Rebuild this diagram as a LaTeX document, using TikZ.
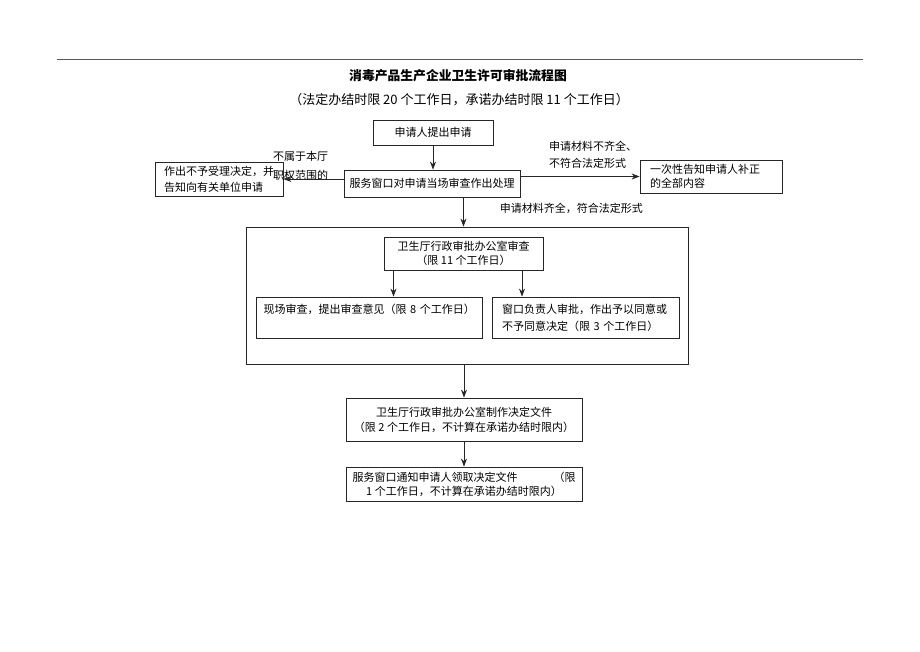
\documentclass[tikz,border=0pt]{standalone}
\usepackage{fontspec}
\setmainfont{Noto Sans CJK SC}
\usetikzlibrary{arrows.meta,positioning}

\begin{document}
\begin{tikzpicture}[x=1pt, y=-1pt,
  box/.style={rectangle, draw=black!85, line width=0.8pt, inner sep=0pt,
    font=\fontsize{11}{15}\selectfont},
  lbox/.style={box, align=left},
  lbl/.style={inner sep=0pt, font=\fontsize{11}{15}\selectfont},
  flow/.style={->, line width=0.8pt, draw=black!85},
  >={Stealth[length=8pt,width=6pt]}
]
  \useasboundingbox (0,0) rectangle (920,651);
  % heading
  \draw[line width=0.7pt, black!65] (57,59) -- (863,59);
  \node[lbl, font=\fontsize{12.8}{15}\selectfont\bfseries] (title) at (458,76)
    {消毒产品生产企业卫生许可审批流程图};
  \node[lbl, font=\fontsize{13}{15}\selectfont] (subtitle) at (459,100)
    {（法定办结时限 20 个工作日，承诺办结时限 11 个工作日）};

  % application and first handling
  \node[box, minimum width=120, minimum height=25] (apply) at (433,132.5) {申请人提出申请};
  \node[box, minimum width=176, minimum height=27] (serve) at (432,183.5)
    {服务窗口对申请当场审查作出处理};
  \node[lbox, text width=110, inner xsep=9, minimum height=34,
    font=\fontsize{11}{16}\selectfont] (reject) at (219,179)
    {作出不予受理决定，并\\告知向有关单位申请};
  \node[lbox, text width=122, inner xsep=10, minimum height=33,
    font=\fontsize{11}{14}\selectfont] (notify) at (711,176.5)
    {一次性告知申请人补正\\的全部内容};

  % review block
  \node[box, minimum width=442, minimum height=137] (office) at (467,295.5) {};
  \node[box, align=center, minimum width=159, minimum height=33,
    font=\fontsize{11}{14}\selectfont] (check) at (463.5,253.5)
    {卫生厅行政审批办公室审查\\（限 11 个工作日）};
  \node[lbox, text width=212, inner xsep=7, minimum height=41,
    font=\fontsize{11}{17}\selectfont] (site) at (369.5,317.5)
    {现场审查，提出审查意见（限 8 个工作日）\\\mbox{}};
  \node[lbox, text width=167, inner xsep=10, minimum height=41,
    font=\fontsize{11}{17}\selectfont] (window) at (585.5,317.5)
    {窗口负责人审批，作出予以同意或\\不予同意决定（限 3 个工作日）};

  % decision and notice
  \node[box, align=center, minimum width=236, minimum height=43] (doc) at (464,419.5)
    {卫生厅行政审批办公室制作决定文件\\（限 2 个工作日，不计算在承诺办结时限内）};
  \node[box, align=center, minimum width=236, minimum height=34,
    font=\fontsize{11}{14}\selectfont] (notice) at (464,484)
    {服务窗口通知申请人领取决定文件\hspace{36pt}（限\\1 个工作日，不计算在承诺办结时限内）};

  % labels
  \node[lbl, anchor=west, align=left, font=\fontsize{11}{19}\selectfont] (outside) at (273,165.5)
    {不属于本厅\\职权范围的};
  \node[lbl, anchor=west, align=left, font=\fontsize{11}{17}\selectfont] (lack) at (549,154.5)
    {申请材料不齐全、\\不符合法定形式};

  % connectors
  \draw[flow] (apply.south) -- (apply.south |- serve.north);
  \draw[flow] (serve.west |- reject.east) -- (reject.east);
  \draw[flow] (serve.east |- notify.west) -- (notify.west);
  \draw[flow] (check.north |- serve.south) -- node[lbl, pos=0.37, right=36pt] (full)
    {申请材料齐全，符合法定形式} (check.north |- office.north);
  \draw[flow] ([xshift=-70pt]check.south) -- ([xshift=-70pt]check.south |- site.north);
  \draw[flow] ([xshift=58.5pt]check.south) -- ([xshift=58.5pt]check.south |- window.north);
  \draw[flow] (doc.north |- office.south) -- (doc.north);
  \draw[flow] (doc.south) -- (notice.north);
\end{tikzpicture}
\end{document}
